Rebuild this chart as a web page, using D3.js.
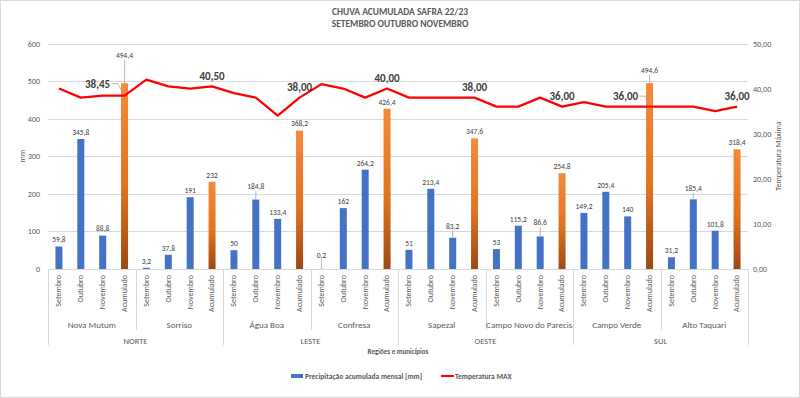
<!DOCTYPE html>
<html lang='pt'>
  <head>
    <meta charset='utf-8'>
    <style type='text/css'>
      body {margin: 0; background-color: #fff;}
      svg text {font-family: Carlito, Lato, 'Open Sans', sans-serif; fill: #595959;}
    </style>
  </head>
  <body>
    <div id='visualization'>
      <svg width='800' height='398'></svg>
    </div>

    <script src='https://d3js.org/d3.v7.min.js'></script>
    <script type='text/javascript'>
        // data
        var regioes = ["NORTE", "LESTE", "OESTE", "SUL"];
        var municipios = ["Nova Mutum", "Sorriso", "Água Boa", "Confresa",
                          "Sapezal", "Campo Novo do Parecis", "Campo Verde", "Alto Taquari"];
        var meses = ["Setembro", "Outubro", "Novembro", "Acumulado"];
        var precipitacao = [59.8, 345.8, 88.8, 494.4,
                            3.2, 37.8, 191, 232,
                            50, 184.8, 133.4, 368.2,
                            0.2, 162, 264.2, 426.4,
                            51, 213.4, 83.2, 347.6,
                            53, 115.2, 86.6, 254.8,
                            149.2, 205.4, 140, 494.6,
                            31.2, 185.4, 101.8, 318.4];
        var temperaturaMax = [40, 38, 38.45, 38.45,
                              42, 40.5, 40, 40.5,
                              39, 38, 34, 38,
                              41, 40, 38, 40,
                              38, 38, 38, 38,
                              36, 36, 38, 36,
                              37, 36, 36, 36,
                              36, 36, 35, 36];
        var mmTicks = [0, 100, 200, 300, 400, 500, 600];
        var tempTicks = [0, 10, 20, 30, 40, 50];

        // build one row per category
        var data = precipitacao.map(function(v, i) {
          return {i: i, mes: meses[i % 4], mun: Math.floor(i / 4), mm: v, t: temperaturaMax[i]};
        });

        // label placement tweaks (px lift above bar top, leader line when set)
        var barLift = {3: 28, 9: 13, 12: 14, 18: 12, 22: 14, 27: 13, 29: 11};
        var tempLeft = {3: [-27, -12], 27: [-24, -10.5]};

        var svg = d3.select("svg");
        var plotL = 48, plotR = 748, plotT = 43.5, plotB = 269;

        var x = d3.scaleBand().domain(d3.range(data.length)).range([plotL, plotR])
            .paddingInner(0.68).paddingOuter(0.34);
        var y = d3.scaleLinear().domain([0, 600]).range([plotB, plotT]);
        var yT = d3.scaleLinear().domain([0, 50]).range([plotB, plotT]);
        var step = x.step();
        var cx = function(i) { return x(i) + x.bandwidth() / 2; };
        var fmt = function(v) { return String(v).replace(".", ","); };

        var defs = svg.append("defs");
        var grad = defs.append("linearGradient").attr("id", "acum")
            .attr("x1", 0).attr("y1", 0).attr("x2", 0).attr("y2", 1);
        grad.append("stop").attr("offset", "0%").attr("stop-color", "#F5893B");
        grad.append("stop").attr("offset", "55%").attr("stop-color", "#E2731F");
        grad.append("stop").attr("offset", "100%").attr("stop-color", "#9C4915");

        // outer border
        svg.append("rect").attr("x", 0.5).attr("y", 0.5).attr("width", 799).attr("height", 397)
            .attr("fill", "none").attr("stroke", "#d9d9d9");

        // title
        svg.append("text").attr("x", 400).attr("y", 15).attr("text-anchor", "middle")
            .attr("font-size", 9.5).attr("font-weight", "bold").text("CHUVA ACUMULADA SAFRA 22/23");
        svg.append("text").attr("x", 400).attr("y", 26.5).attr("text-anchor", "middle")
            .attr("font-size", 9.5).attr("font-weight", "bold").text("SETEMBRO OUTUBRO NOVEMBRO");

        // gridlines
        svg.append("g").selectAll("line").data(mmTicks).enter().append("line")
            .attr("x1", plotL).attr("x2", plotR)
            .attr("y1", function(d) { return Math.round(y(d)) + 0.5; })
            .attr("y2", function(d) { return Math.round(y(d)) + 0.5; })
            .attr("stroke", "#d9d9d9").attr("stroke-width", 1);

        // left axis
        var gl = svg.append("g").attr("transform", "translate(40,0)")
            .call(d3.axisLeft(y).tickValues(mmTicks).tickSize(0).tickPadding(0));
        gl.select(".domain").remove();
        gl.selectAll("text").attr("font-size", 8).attr("font-family", null).style("fill", "#595959");

        // right axis
        var gr = svg.append("g").attr("transform", "translate(753,0)")
            .call(d3.axisRight(yT).tickValues(tempTicks).tickSize(0).tickPadding(0)
              .tickFormat(function(d) { return d3.format(".2f")(d).replace(".", ","); }));
        gr.select(".domain").remove();
        gr.selectAll("text").attr("font-size", 8).attr("font-family", null).style("fill", "#595959");

        svg.append("text").attr("transform", "translate(25,156) rotate(-90)")
            .attr("text-anchor", "middle").attr("font-size", 8).text("mm");
        svg.append("text").attr("transform", "translate(781,156) rotate(-90)")
            .attr("text-anchor", "middle").attr("font-size", 8).text("Temperatura Máxima");

        // bars
        svg.append("g").selectAll("rect").data(data).enter().append("rect")
            .attr("x", function(d) { return x(d.i); })
            .attr("y", function(d) { return y(d.mm); })
            .attr("width", x.bandwidth())
            .attr("height", function(d) { return plotB - y(d.mm); })
            .attr("fill", function(d) { return d.mes === "Acumulado" ? "url(#acum)" : "#4472C4"; });

        // bar labels
        var bl = svg.append("g");
        data.forEach(function(d) {
          var lift = barLift[d.i] || 7;
          var ly = y(d.mm) - lift;
          if (barLift[d.i]) {
            bl.append("line").attr("x1", cx(d.i)).attr("x2", cx(d.i))
              .attr("y1", ly + 4.5).attr("y2", y(d.mm))
              .attr("stroke", "#a6a6a6").attr("stroke-width", 0.8);
          }
          bl.append("text").attr("x", cx(d.i)).attr("y", ly + 2.8)
            .attr("text-anchor", "middle").attr("font-size", 7.5).style("fill", "#404040")
            .text(fmt(d.mm));
        });

        // axis line
        svg.append("line").attr("x1", plotL).attr("x2", plotR).attr("y1", plotB + 0.5).attr("y2", plotB + 0.5)
            .attr("stroke", "#d9d9d9");

        // temperature line
        var line = d3.line().x(function(d) { return cx(d.i); }).y(function(d) { return yT(d.t); });
        svg.append("path").datum(data).attr("d", line)
            .attr("fill", "none").attr("stroke", "#FF0000").attr("stroke-width", 2.2)
            .attr("stroke-linejoin", "round");

        // temperature labels on the accumulated points
        var tl = svg.append("g");
        data.filter(function(d) { return d.mes === "Acumulado"; }).forEach(function(d) {
          var px = cx(d.i), py = yT(d.t);
          var txt = d3.format(".2f")(d.t).replace(".", ",");
          var off = tempLeft[d.i];
          if (off) {
            var lx = px + off[0], ly = py + off[1];
            tl.append("polyline")
              .attr("points", [[lx + 14, ly], [lx + 20, ly], [px - 1, py - 2]].join(" "))
              .attr("fill", "none").attr("stroke", "#a6a6a6").attr("stroke-width", 0.8);
            tl.append("text").attr("x", lx).attr("y", ly + 4).attr("text-anchor", "middle")
              .attr("font-size", 11).attr("font-weight", "bold").style("fill", "#404040").text(txt);
          } else {
            tl.append("text").attr("x", px).attr("y", py - 6.5).attr("text-anchor", "middle")
              .attr("font-size", 11).attr("font-weight", "bold").style("fill", "#404040").text(txt);
          }
        });

        // category labels (months)
        svg.append("g").selectAll("text").data(data).enter().append("text")
            .attr("transform", function(d) { return "translate(" + (cx(d.i) + 0.5) + ",275) rotate(-90)"; })
            .attr("text-anchor", "end").attr("dominant-baseline", "middle")
            .attr("font-size", 8).text(function(d) { return d.mes; });

        // group separators
        var sep = svg.append("g").attr("stroke", "#d9d9d9").attr("stroke-width", 1);
        d3.range(municipios.length + 1).forEach(function(k) {
          var sx = Math.round(x(0) - step * 0.34 + k * 4 * step) + 0.5;
          sep.append("line").attr("x1", sx).attr("x2", sx).attr("y1", plotB)
            .attr("y2", k % 2 === 0 ? 345 : 330);
        });

        // municipality and region labels
        svg.append("g").selectAll("text").data(municipios).enter().append("text")
            .attr("x", function(d, k) { return (cx(k * 4) + cx(k * 4 + 3)) / 2; })
            .attr("y", 328).attr("text-anchor", "middle").attr("font-size", 9)
            .text(function(d) { return d; });
        svg.append("g").selectAll("text").data(regioes).enter().append("text")
            .attr("x", function(d, k) { return (cx(k * 8) + cx(k * 8 + 7)) / 2; })
            .attr("y", 344).attr("text-anchor", "middle").attr("font-size", 8.5)
            .text(function(d) { return d; });
        svg.append("text").attr("x", 398).attr("y", 354).attr("text-anchor", "middle")
            .attr("font-size", 7).attr("font-weight", "bold").text("Regiões e municípios");

        // legend
        var lg = svg.append("g");
        lg.append("rect").attr("x", 291).attr("y", 374).attr("width", 12).attr("height", 4).attr("fill", "#4472C4");
        lg.append("text").attr("x", 305).attr("y", 378.5).attr("font-size", 7.5).attr("font-weight", "bold")
            .text("Precipitação acumulada mensal  [mm]");
        lg.append("line").attr("x1", 441).attr("x2", 454).attr("y1", 376).attr("y2", 376)
            .attr("stroke", "#FF0000").attr("stroke-width", 2);
        lg.append("text").attr("x", 455).attr("y", 378.5).attr("font-size", 7.5).attr("font-weight", "bold")
            .text("Temperatura MAX");
    </script>
  </body>
</html>
